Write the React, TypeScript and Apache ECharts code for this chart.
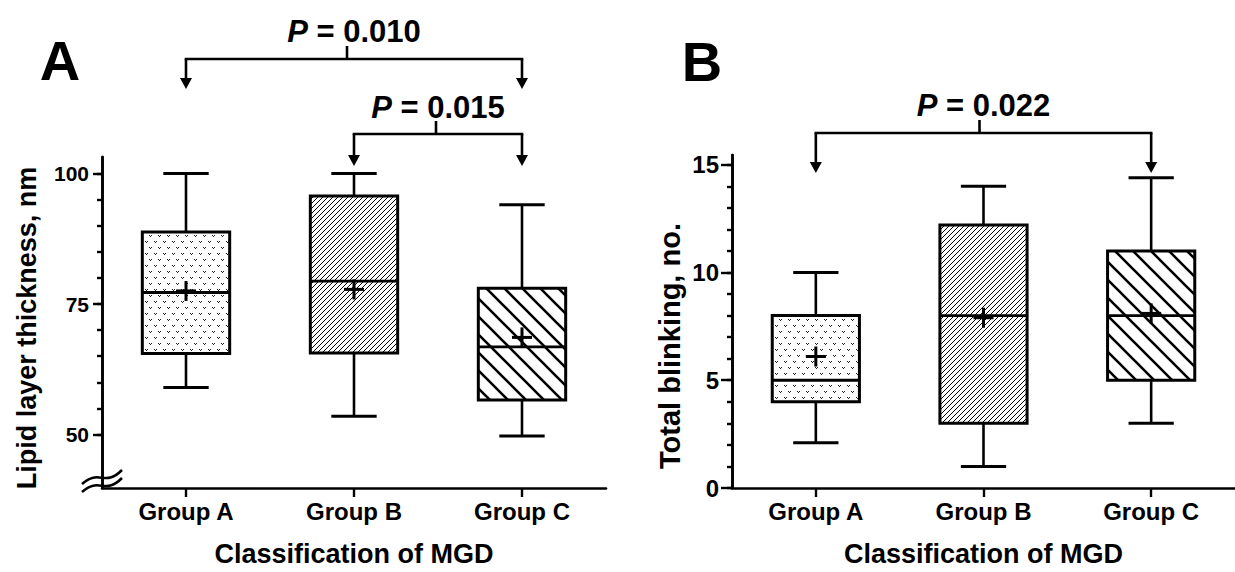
import React, { useEffect, useRef } from 'react';
import * as echarts from 'echarts';

const FONT = '"Liberation Sans", Arial, sans-serif';

const groups = ['Group A', 'Group B', 'Group C'];

// Panel A: lipid layer thickness (nm)
const lipidMin = [59, 53.5, 49.7];
const lipidQ1 = [65.5, 65.6, 56.6];
const lipidMedian = [77.2, 79.4, 66.8];
const lipidQ3 = [88.8, 95.7, 78];
const lipidMax = [100, 100, 94];
const lipidMean = [77.5, 77.8, 68.6];
const lipidMajorTicks = [50, 75, 100];
const lipidMinorTicks = [50, 55, 60, 65, 70, 75, 80, 85, 90, 95, 100];

// Panel B: total blinking (no.)
const blinkMin = [2.1, 1, 3];
const blinkQ1 = [4, 3, 5];
const blinkMedian = [5, 8, 8];
const blinkQ3 = [8, 12.2, 11];
const blinkMax = [10, 14, 14.4];
const blinkMean = [6.1, 7.9, 8.1];
const blinkMajorTicks = [0, 5, 10, 15];
const blinkMinorTicks = [0, 1, 2, 3, 4, 5, 6, 7, 8, 9, 10, 11, 12, 13, 14, 15];

// comparisons: [from, to, p]
const lipidComparisons = [
  ['Group A', 'Group C', '0.010'],
  ['Group B', 'Group C', '0.015'],
];
const blinkComparisons = [['Group A', 'Group C', '0.022']];

function makePattern(kind: string) {
  const c = document.createElement('canvas');
  let w = 9, h = 12;
  if (kind === 'dots') { w = 9; h = 12; }
  if (kind === 'fine') { w = 5; h = 5; }
  if (kind === 'wide') { w = 18; h = 18; }
  c.width = w; c.height = h;
  const ctx = c.getContext('2d')!;
  ctx.fillStyle = '#fff';
  ctx.fillRect(0, 0, w, h);
  if (kind === 'dots') {
    ctx.fillStyle = '#222';
    const v = (x: number, y: number) => {
      ctx.fillRect(x, y, 1, 1);
      ctx.fillRect(x + 2, y, 1, 1);
      ctx.fillRect(x + 1, y + 1, 1, 1);
    };
    v(1, 1);
    v(5, 7);
  } else {
    ctx.strokeStyle = '#000';
    ctx.lineWidth = kind === 'fine' ? 1.0 : 2.6;
    ctx.beginPath();
    if (kind === 'fine') {
      for (const k of [0, w, 2 * w]) {
        ctx.moveTo(k + 1, -1);
        ctx.lineTo(k - w - 1, h + 1);
      }
    } else {
      for (const k of [-w, 0, w]) {
        ctx.moveTo(k - 1, -1);
        ctx.lineTo(k + w + 1, h + 1);
      }
    }
    ctx.stroke();
  }
  return { image: c.toDataURL(), repeat: 'repeat', imageWidth: w, imageHeight: h };
}

function rows(mn: number[], q1: number[], md: number[], q3: number[], mx: number[], mean: number[]) {
  return groups.map((_, i) => [i, mn[i], q1[i], md[i], q3[i], mx[i], mean[i]]);
}

export default function App() {
  const ref = useRef<HTMLDivElement>(null);
  useEffect(() => {
    const chart = echarts.init(ref.current!, null, { renderer: 'svg' });
    const patterns = [makePattern('dots'), makePattern('fine'), makePattern('wide')];

    const renderItem = (params: any, api: any) => {
      const cat = api.value(0);
      const lo = api.value(1), q1 = api.value(2), med = api.value(3), q3 = api.value(4), hi = api.value(5), mean = api.value(6);
      const band = api.size([1, 0])[0];
      const bw = band * 0.52;
      const cw = band * 0.27;
      const x = api.coord([cat, med])[0];
      const y = (v: number) => api.coord([cat, v])[1];
      const ln = (x1: number, y1: number, x2: number, y2: number, w = 2.6) => ({
        type: 'line',
        shape: { x1, y1, x2, y2 },
        style: { stroke: '#000', lineWidth: w },
      });
      return {
        type: 'group',
        children: [
          ln(x, y(hi), x, y(q3)),
          ln(x - cw / 2, y(hi), x + cw / 2, y(hi), 3),
          ln(x, y(q1), x, y(lo)),
          ln(x - cw / 2, y(lo), x + cw / 2, y(lo), 3),
          {
            type: 'rect',
            shape: { x: x - bw / 2, y: y(q3), width: bw, height: y(q1) - y(q3) },
            style: { fill: patterns[params.dataIndex], stroke: '#000', lineWidth: 3 },
          },
          ln(x - bw / 2, y(med), x + bw / 2, y(med), 2.8),
          ln(x - 10, y(mean), x + 10, y(mean), 3),
          ln(x, y(mean) - 10, x, y(mean) + 10, 3),
        ],
      };
    };

    const axisLine = { show: true, lineStyle: { color: '#000', width: 2.6 } };
    const tickStyle = { color: '#000', width: 2.4 };

    const xAxis = (gi: number) => ({
      type: 'category',
      gridIndex: gi,
      data: groups,
      boundaryGap: true,
      axisLine,
      axisTick: { show: true, alignWithLabel: true, length: 9, lineStyle: tickStyle },
      axisLabel: { color: '#000', fontSize: 24, fontWeight: 'bold', fontFamily: FONT, margin: 11 },
      splitLine: { show: false },
      name: 'Classification of MGD',
      nameLocation: 'middle',
      nameGap: 52,
      nameTextStyle: { color: '#000', fontSize: 27, fontWeight: 'bold', fontFamily: FONT },
    });

    const yMinor = (gi: number, min: number, max: number, ticks: number[]) => ({
      type: 'value',
      gridIndex: gi,
      position: 'left',
      min,
      max,
      axisLine,
      axisTick: { show: true, length: 5, customValues: ticks, lineStyle: tickStyle },
      axisLabel: { show: false },
      splitLine: { show: false },
    });
    const yMajor = (gi: number, min: number, max: number, ticks: number[], fs: number, len: number, margin: number) => ({
      type: 'value',
      gridIndex: gi,
      position: 'left',
      min,
      max,
      axisLine,
      axisTick: { show: true, length: len, customValues: ticks, lineStyle: tickStyle },
      axisLabel: { show: true, customValues: ticks, color: '#000', fontSize: fs, fontWeight: 'bold', fontFamily: FONT, margin },
      splitLine: { show: false },
    });

    const option: any = {
      animation: false,
      backgroundColor: '#fff',
      grid: [
        { left: 102, top: 157, width: 504, height: 340 },
        { left: 732, top: 155, width: 510, height: 343 },
      ],
      xAxis: [xAxis(0), xAxis(1)],
      yAxis: [
        yMinor(0, 39.74, 103.17, lipidMinorTicks),
        yMajor(0, 39.74, 103.17, lipidMajorTicks, 21, 9, 13),
        yMinor(1, 0, 15.45, blinkMinorTicks),
        yMajor(1, 0, 15.45, blinkMajorTicks, 24, 11, 13),
      ],
      series: [
        {
          type: 'custom',
          coordinateSystem: 'cartesian2d',
          xAxisIndex: 0,
          yAxisIndex: 1,
          renderItem,
          clip: false,
          encode: { x: 0, y: [1, 2, 3, 4, 5, 6] },
          data: rows(lipidMin, lipidQ1, lipidMedian, lipidQ3, lipidMax, lipidMean),
        },
        {
          type: 'custom',
          coordinateSystem: 'cartesian2d',
          xAxisIndex: 1,
          yAxisIndex: 3,
          renderItem,
          clip: false,
          encode: { x: 0, y: [1, 2, 3, 4, 5, 6] },
          data: rows(blinkMin, blinkQ1, blinkMedian, blinkQ3, blinkMax, blinkMean),
        },
      ],
    };
    chart.setOption(option);

    const graphics: any[] = [];
    const line = (x1: number, y1: number, x2: number, y2: number) =>
      graphics.push({ type: 'line', shape: { x1, y1, x2, y2 }, style: { stroke: '#000', lineWidth: 2.6 }, z: 10 });
    const arrow = (x: number, top: number, tip: number) => {
      line(x, top, x, tip - 10);
      graphics.push({
        type: 'polygon',
        shape: { points: [[x - 6, tip - 11], [x + 6, tip - 11], [x, tip]] },
        style: { fill: '#000' },
        z: 10,
      });
    };
    const pText = (x: number, y: number, p: string) =>
      graphics.push({
        type: 'text',
        x,
        y,
        z: 10,
        style: {
          text: '{i|P} = ' + p,
          fill: '#000',
          font: 'bold 31px ' + FONT,
          align: 'center',
          verticalAlign: 'middle',
          rich: { i: { fontStyle: 'italic', fontWeight: 'bold', fontSize: 31, fontFamily: FONT, fill: '#000' } },
        },
      });
    const bracket = (xi: number, cmp: string[], barY: number, tipY: number, textY: number, tickShift: number) => {
      const xa = chart.convertToPixel({ xAxisIndex: xi }, cmp[0]) as number;
      const xb = chart.convertToPixel({ xAxisIndex: xi }, cmp[1]) as number;
      const mid = (xa + xb) / 2;
      line(xa - 1.3, barY, xb + 1.3, barY);
      line(mid + tickShift, barY - 13, mid + tickShift, barY);
      arrow(xa, barY, tipY);
      arrow(xb, barY, tipY);
      pText(mid, textY, cmp[2]);
    };
    bracket(0, lipidComparisons[0], 59, 89, 31, -7);
    bracket(0, lipidComparisons[1], 134, 166, 107, -2);
    bracket(1, blinkComparisons[0], 133, 173, 105, -4);

    // axis break marks on panel A
    for (const dy of [0, 8]) {
      graphics.push({
        type: 'bezierCurve',
        shape: { x1: 82, y1: 484 + dy, x2: 122, y2: 470 + dy, cpx1: 100, cpy1: 468 + dy, cpx2: 104, cpy2: 488 + dy },
        style: { stroke: '#000', lineWidth: 2.6, fill: 'none' },
        z: 10,
      });
    }

    const label = (x: number, y: number, text: string, size: number, rot = 0) =>
      graphics.push({
        type: 'text',
        x,
        y,
        rotation: rot,
        z: 10,
        style: { text, fill: '#000', font: 'bold ' + size + 'px ' + FONT, align: 'center', verticalAlign: 'middle' },
      });
    label(60, 60, 'A', 56);
    label(702, 61, 'B', 56);
    label(27, 328, 'Lipid layer thickness, nm', 27, Math.PI / 2);
    label(670, 346, 'Total blinking, no.', 29, Math.PI / 2);

    chart.setOption({ graphic: graphics });
    return () => chart.dispose();
  }, []);
  return <div ref={ref} style={{ position: 'fixed', left: 0, top: 0, width: 1235, height: 572, background: '#fff' }} />;
}
